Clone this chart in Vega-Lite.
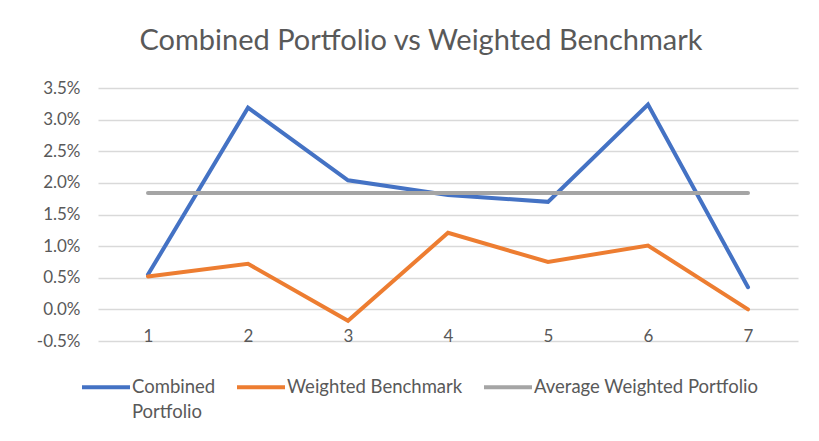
{
  "$schema": "https://vega.github.io/schema/vega-lite/v6.json",
  "width": 700,
  "height": 253,
  "autosize": {"type": "none"},
  "padding": {"left": 98, "top": 88, "right": 21, "bottom": 100},
  "background": "white",
  "title": {
    "text": "Combined Portfolio vs Weighted Benchmark",
    "anchor": "middle",
    "dx": -27,
    "font": "Lato",
    "fontSize": 29,
    "fontWeight": "normal",
    "color": "#595959",
    "baseline": "alphabetic",
    "offset": 0
  },
  "data": {
    "values": [
      {"period": "1", "series": "Combined Portfolio", "value": 0.0055},
      {"period": "2", "series": "Combined Portfolio", "value": 0.0319},
      {"period": "3", "series": "Combined Portfolio", "value": 0.0204},
      {"period": "4", "series": "Combined Portfolio", "value": 0.0181},
      {"period": "5", "series": "Combined Portfolio", "value": 0.0170},
      {"period": "6", "series": "Combined Portfolio", "value": 0.0324},
      {"period": "7", "series": "Combined Portfolio", "value": 0.0035},
      {"period": "1", "series": "Weighted Benchmark", "value": 0.0052},
      {"period": "2", "series": "Weighted Benchmark", "value": 0.0072},
      {"period": "3", "series": "Weighted Benchmark", "value": -0.0018},
      {"period": "4", "series": "Weighted Benchmark", "value": 0.0121},
      {"period": "5", "series": "Weighted Benchmark", "value": 0.0075},
      {"period": "6", "series": "Weighted Benchmark", "value": 0.0101},
      {"period": "7", "series": "Weighted Benchmark", "value": 0.0},
      {"period": "1", "series": "Average Weighted Portfolio", "value": 0.0184},
      {"period": "2", "series": "Average Weighted Portfolio", "value": 0.0184},
      {"period": "3", "series": "Average Weighted Portfolio", "value": 0.0184},
      {"period": "4", "series": "Average Weighted Portfolio", "value": 0.0184},
      {"period": "5", "series": "Average Weighted Portfolio", "value": 0.0184},
      {"period": "6", "series": "Average Weighted Portfolio", "value": 0.0184},
      {"period": "7", "series": "Average Weighted Portfolio", "value": 0.0184}
    ]
  },
  "mark": {"type": "line", "strokeWidth": 4, "strokeCap": "round", "strokeJoin": "miter"},
  "encoding": {
    "x": {
      "field": "period",
      "type": "ordinal",
      "scale": {"type": "point", "padding": 0.5},
      "axis": {
        "title": null,
        "labelAngle": 0,
        "domain": false,
        "ticks": false,
        "grid": false,
        "offset": -13,
        "labelPadding": 0,
        "labelFont": "Lato",
        "labelFontSize": 17,
        "labelColor": "#595959"
      }
    },
    "y": {
      "field": "value",
      "type": "quantitative",
      "scale": {"domain": [-0.005, 0.035], "nice": false, "zero": false},
      "axis": {
        "title": null,
        "format": ".1%",
        "labelExpr": "replace(datum.label, '\u2212', '-')",
        "values": [-0.005, 0, 0.005, 0.01, 0.015, 0.02, 0.025, 0.03, 0.035],
        "domain": false,
        "ticks": false,
        "labelPadding": 18,
        "labelFont": "Lato",
        "labelFontSize": 17,
        "labelColor": "#595959",
        "gridColor": "#D9D9D9",
        "gridWidth": 1.3
      }
    },
    "color": {
      "field": "series",
      "type": "nominal",
      "sort": null,
      "scale": {
        "domain": ["Combined Portfolio", "Weighted Benchmark", "Average Weighted Portfolio"],
        "range": ["#4472C4", "#ED7D31", "#A5A5A5"]
      },
      "legend": {
        "title": null,
        "orient": "none",
        "direction": "horizontal",
        "legendX": -18,
        "legendY": 273,
        "symbolType": "stroke",
        "symbolSize": 2304,
        "symbolStrokeWidth": 4,
        "labelOffset": 0,
        "columnPadding": 13,
        "labelFont": "Lato",
        "labelFontSize": 18.5,
        "labelColor": "#595959",
        "labelLimit": 400,
        "labelBaseline": "middle",
        "labelExpr": "datum.label == 'Combined Portfolio' ? ['Combined', 'Portfolio'] : [datum.label, '']"
      }
    }
  },
  "config": {
    "view": {"stroke": null},
    "style": {"guide-label": {"lineHeight": 25}}
  }
}
